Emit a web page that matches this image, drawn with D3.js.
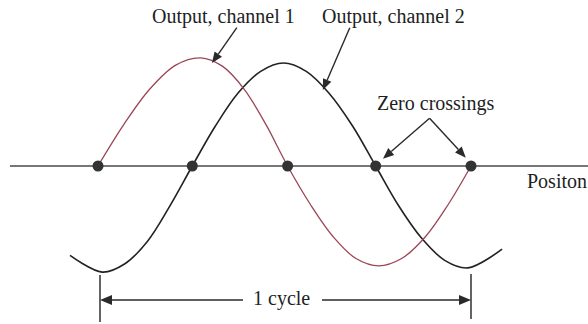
<!DOCTYPE html>
<html>
<head>
<meta charset="utf-8">
<script src="https://cdn.jsdelivr.net/npm/d3@7"></script>
<style>
  html, body { margin: 0; padding: 0; background: #fff; }
  svg { display: block; }
  text { font-family: "Liberation Serif", "Times New Roman", serif; fill: #1e1e1e; }
</style>
</head>
<body>
<svg id="chart" width="588" height="324"></svg>
<script>
// Position in degrees of phase (red zero crossing = 0, one cycle = 360), value normalised.
const ch1Phase = [0, 25, 50, 75, 99, 120, 141, 162, 183, 205, 227, 249, 271, 293, 316, 338, 360];
const ch1Value = [0, 0.40, 0.74, 0.97, 1.04, 0.96, 0.74, 0.40, 0, -0.37, -0.68, -0.89, -0.96, -0.89, -0.68, -0.37, 0];

const ch2Phase = [-27, 4, 26, 48, 69, 91, 113, 135, 157, 179, 201, 223, 246, 268, 290, 312, 335, 357, 390];
const ch2Value = [-0.86, -1.02, -0.94, -0.72, -0.39, 0, 0.38, 0.70, 0.91, 0.99, 0.91, 0.70, 0.38, 0, -0.38, -0.69, -0.91, -0.98, -0.80];

const zeroCrossings = [0, 91, 183, 268, 360];
const axisExtent = [-85, 473];
const cycleSpan = [0, 360];

const labels = {
  ch1: "Output, channel 1",
  ch2: "Output, channel 2",
  zero: "Zero crossings",
  axis: "Positon",
  cycle: "1 cycle"
};

const svg = d3.select("#chart");
const x = d3.scaleLinear().domain([0, 360]).range([98, 471]);
const y = d3.scaleLinear().domain([-1, 1]).range([270, 62]);

const line = d3.line().x(d => x(d[0])).y(d => y(d[1])).curve(d3.curveCatmullRom.alpha(0.5));

// axis line
svg.append("line")
  .attr("x1", x(axisExtent[0])).attr("x2", x(axisExtent[1]))
  .attr("y1", y(0)).attr("y2", y(0))
  .attr("stroke", "#4a4a4a").attr("stroke-width", 1.6);

// curves
svg.append("path")
  .datum(ch2Phase.map((p, i) => [p, ch2Value[i]]))
  .attr("d", line).attr("fill", "none")
  .attr("stroke", "#222").attr("stroke-width", 1.6);

svg.append("path")
  .datum(ch1Phase.map((p, i) => [p, ch1Value[i]]))
  .attr("d", line).attr("fill", "none")
  .attr("stroke", "#9a4656").attr("stroke-width", 1.3);

// zero-crossing dots
svg.selectAll("circle.zc").data(zeroCrossings).join("circle")
  .attr("class", "zc")
  .attr("cx", d => x(d)).attr("cy", y(0)).attr("r", 5.5)
  .attr("fill", "#333");

// arrow helper (line with filled head at tip)
function arrow(x1, y1, x2, y2, len = 11, half = 4.5) {
  const a = Math.atan2(y2 - y1, x2 - x1);
  const bx = x2 - len * Math.cos(a), by = y2 - len * Math.sin(a);
  svg.append("line").attr("x1", x1).attr("y1", y1).attr("x2", bx).attr("y2", by)
    .attr("stroke", "#2a2a2a").attr("stroke-width", 1.4);
  const px = -Math.sin(a) * half, py = Math.cos(a) * half;
  svg.append("path")
    .attr("d", `M${x2},${y2}L${bx + px},${by + py}L${bx - px},${by - py}Z`)
    .attr("fill", "#2a2a2a");
}

// labels
svg.append("text").attr("x", 152).attr("y", 23).attr("font-size", 20).text(labels.ch1);
svg.append("text").attr("x", 322).attr("y", 23).attr("font-size", 20).text(labels.ch2);
svg.append("text").attr("x", 377).attr("y", 110).attr("font-size", 20).text(labels.zero);
svg.append("text").attr("x", 527).attr("y", 188).attr("font-size", 20).text(labels.axis);

// annotation arrows (anchored to data coordinates)
arrow(x(134), y(1.33), x(110), y(0.99));
arrow(x(243), y(1.33), x(217), y(0.73));
arrow(x(320), y(0.46), x(275), y(0.07));
arrow(x(320), y(0.46), x(355), y(0.08));

// 1 cycle dimension
const dimY = 300;
svg.append("line").attr("x1", x(cycleSpan[0]) + 2).attr("x2", x(cycleSpan[0]) + 2)
  .attr("y1", 275).attr("y2", 322).attr("stroke", "#222").attr("stroke-width", 1.4);
svg.append("line").attr("x1", x(cycleSpan[1])).attr("x2", x(cycleSpan[1]))
  .attr("y1", 274).attr("y2", 319).attr("stroke", "#222").attr("stroke-width", 1.4);
const cyc = svg.append("text").attr("x", 253).attr("y", 305).attr("font-size", 20).text(labels.cycle);
arrow(243, dimY, x(cycleSpan[0]) + 2, dimY, 12, 5);
arrow(322, dimY, x(cycleSpan[1]), dimY, 12, 5);
</script>
</body>
</html>
